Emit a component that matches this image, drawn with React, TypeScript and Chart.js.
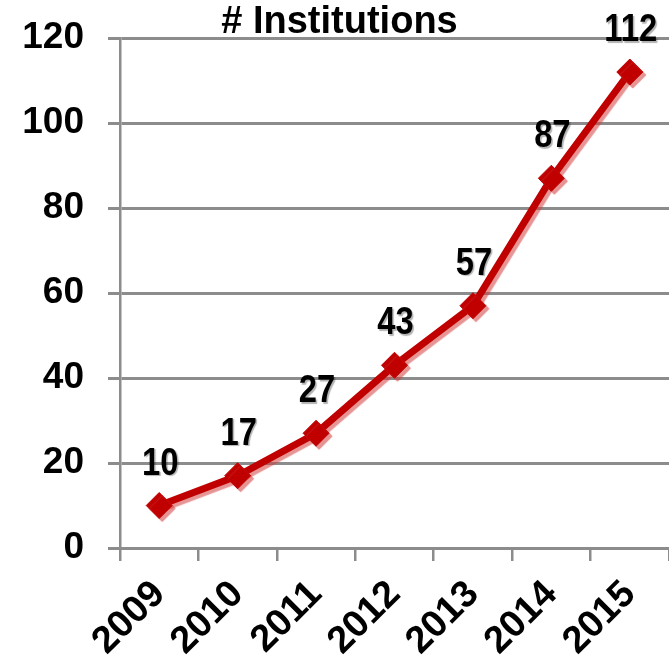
import React, { useEffect, useRef } from 'react';
import { Chart, registerables } from 'chart.js';

Chart.register(...registerables);

const years = ['2009', '2010', '2011', '2012', '2013', '2014', '2015'];
const institutions = [10, 17, 27, 43, 57, 87, 112];
const yMin = 0;
const yMax = 120;
const yStep = 20;
const chartTitle = '# Institutions';

const SANS = "'Liberation Sans', Arial, sans-serif";
const RED = '#c00000';
const GRID = '#8c8c8c';

const lineShadow = {
  id: 'lineShadow',
  beforeDatasetDraw(chart: any) {
    const ctx = chart.ctx;
    ctx.save();
    ctx.shadowColor = 'rgba(210, 60, 60, 0.55)';
    ctx.shadowOffsetX = 3;
    ctx.shadowOffsetY = 3;
    ctx.shadowBlur = 1;
  },
  afterDatasetDraw(chart: any) {
    chart.ctx.restore();
  },
};

const valueLabels = {
  id: 'valueLabels',
  afterDatasetsDraw(chart: any) {
    const ctx = chart.ctx;
    const meta = chart.getDatasetMeta(0);
    const data = chart.data.datasets[0].data as number[];
    const sx = 0.84;
    meta.data.forEach((pt: any, i: number) => {
      ctx.save();
      ctx.translate(pt.x + 1, pt.y - 31);
      ctx.scale(sx, 1);
      ctx.font = `bold 39px ${SANS}`;
      ctx.fillStyle = '#000';
      ctx.textAlign = 'center';
      ctx.textBaseline = 'alphabetic';
      ctx.shadowColor = 'rgba(0,0,0,0.3)';
      ctx.shadowOffsetX = 1.5;
      ctx.shadowOffsetY = 1.5;
      ctx.shadowBlur = 1;
      ctx.fillText(String(data[i]), 0, 0);
      ctx.restore();
    });
  },
};

export default function App() {
  const ref = useRef<HTMLCanvasElement | null>(null);

  useEffect(() => {
    if (!ref.current) return;
    const chart = new Chart(ref.current, {
      type: 'line',
      data: {
        labels: years,
        datasets: [
          {
            data: institutions,
            borderColor: RED,
            backgroundColor: RED,
            borderWidth: 7,
            pointStyle: 'rectRot',
            pointRadius: 13,
            pointBorderWidth: 1,
            pointBorderColor: RED,
            pointBackgroundColor: RED,
            tension: 0,
            clip: false as any,
          },
        ],
      },
      options: {
        responsive: false,
        animation: false,
        layout: { autoPadding: false, padding: { left: 10, right: 0, top: 0, bottom: 0 } },
        plugins: {
          legend: { display: false },
          tooltip: { enabled: false },
          title: {
            display: true,
            text: chartTitle,
            color: '#000',
            font: { family: SANS, size: 38, weight: 'bold', lineHeight: 0.79 },
            padding: { top: 8, bottom: 0 },
          },
        },
        scales: {
          x: {
            type: 'category',
            offset: true,
            afterFit(scale: any) {
              scale.height = 109;
              scale.paddingLeft = 0;
              scale.paddingRight = 0;
            },
            border: { display: true, color: GRID, width: 3 },
            grid: {
              offset: true,
              drawOnChartArea: false,
              drawTicks: true,
              tickLength: 13,
              color: GRID,
              lineWidth: 2.5,
            },
            ticks: {
              color: '#000',
              font: { family: SANS, size: 38, weight: 'bold' },
              maxRotation: 45,
              minRotation: 45,
              padding: 11,
              autoSkip: false,
            },
          },
          y: {
            min: yMin,
            max: yMax,
            afterFit(scale: any) {
              scale.width = 110;
              scale.paddingTop = 0;
              scale.paddingBottom = 0;
            },
            border: { display: true, color: GRID, width: 2.5 },
            grid: {
              color: GRID,
              lineWidth: 3,
              drawTicks: true,
              tickLength: 12,
            },
            ticks: {
              stepSize: yStep,
              color: '#000',
              font: { family: SANS, size: 37, weight: 'bold' },
              padding: 24,
            },
          },
        },
      },
      plugins: [lineShadow, valueLabels],
    });
    return () => chart.destroy();
  }, []);

  return (
    <div style={{ position: 'absolute', left: 0, top: 0, width: 669, height: 657, background: '#fff' }}>
      <canvas ref={ref} width={669} height={657} style={{ display: 'block', width: 669, height: 657 }} />
    </div>
  );
}
